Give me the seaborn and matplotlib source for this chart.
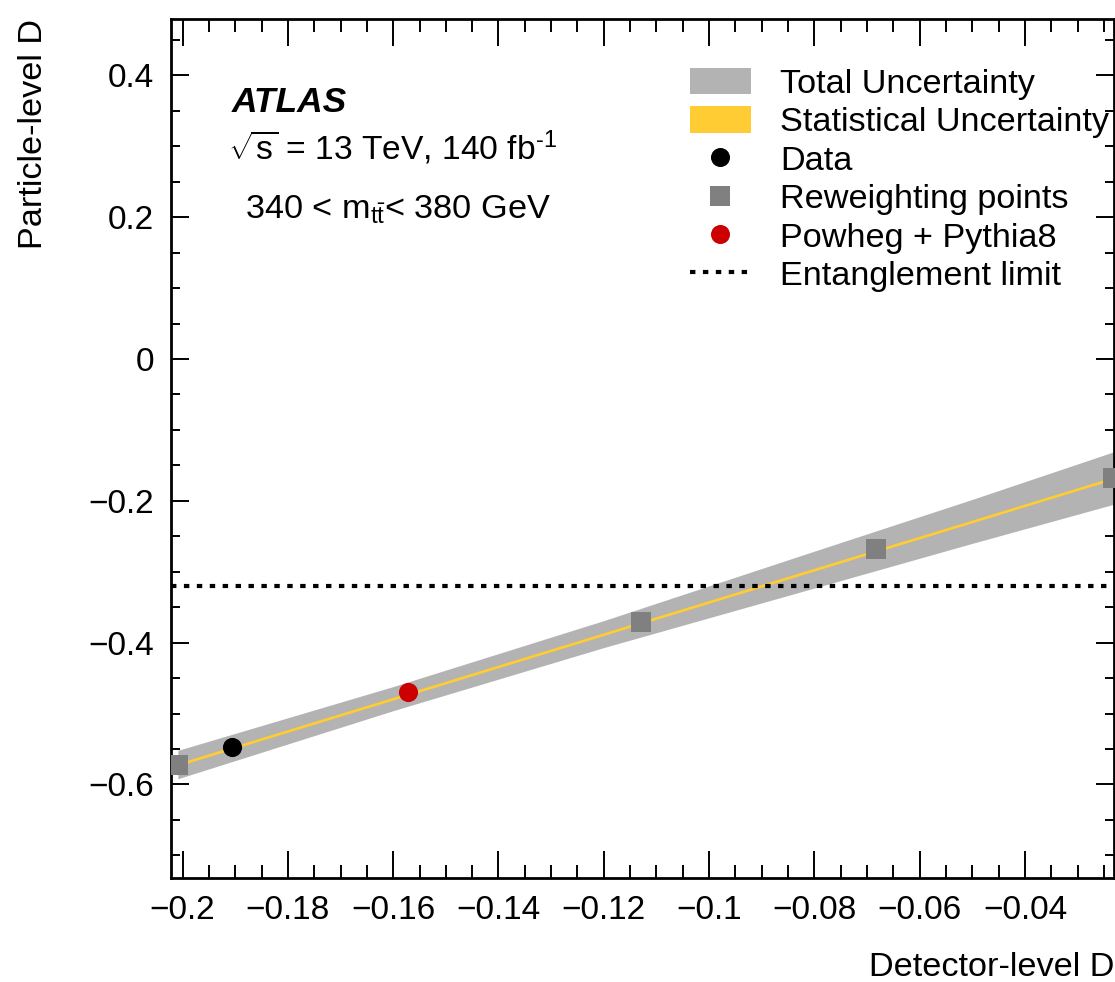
import numpy as np
import pandas as pd
import matplotlib
matplotlib.use("Agg")
import matplotlib.pyplot as plt
import seaborn as sns
from matplotlib.ticker import MultipleLocator, FuncFormatter
from matplotlib.patches import Patch
from matplotlib.lines import Line2D

# ---------------- data ----------------
rw_x = [-0.2009, -0.1130, -0.0683, -0.0232]
rw_y = [-0.572, -0.371, -0.268, -0.168]

data_x = [-0.1907]
data_y = [-0.547]

mc_x = [-0.1571]
mc_y = [-0.470]

band_x = [-0.2009, -0.160, -0.120, -0.080, -0.050, -0.0232]
tot_hi = [-0.552, -0.462, -0.369, -0.271, -0.198, -0.131]
tot_lo = [-0.592, -0.496, -0.407, -0.323, -0.260, -0.205]
stat_hi = [-0.570, -0.477, -0.386, -0.295, -0.227, -0.166]
stat_lo = [-0.574, -0.481, -0.390, -0.299, -0.231, -0.170]

ent_limit = -0.32

x_label = "Detector-level D"
y_label = "Particle-level D"

# ---------------- style ----------------
sns.set_theme(style="ticks")
FONT = "Liberation Sans"
plt.rcParams["font.family"] = [FONT, "DejaVu Sans"]
plt.rcParams["mathtext.fontset"] = "custom"
plt.rcParams["mathtext.rm"] = FONT
plt.rcParams["mathtext.it"] = FONT + ":italic"
plt.rcParams["mathtext.bf"] = FONT + ":bold"
plt.rcParams["axes.unicode_minus"] = True
plt.rcParams["text.color"] = "black"
plt.rcParams["axes.labelcolor"] = "black"
FS = 24
FS2 = 24.7

C_TOT = "#b3b3b3"
C_STAT = "#ffcc33"
C_RW = "#808080"
C_MC = "#cc0000"

fig = plt.figure(figsize=(11.15, 9.82), dpi=100)
ax = fig.add_axes([171 / 1115, 104 / 982, 943 / 1115, 859 / 982])

# bands
ax.fill_between(band_x, tot_lo, tot_hi, color=C_TOT, lw=0, zorder=1)
ax.fill_between(band_x, stat_lo, stat_hi, color=C_STAT, lw=0, zorder=2)

# entanglement limit
ax.axhline(ent_limit, color="black", lw=3.0, ls=(0, (1.3, 1.8)),
           dash_capstyle="butt", zorder=3)

# points
df_rw = pd.DataFrame({"x": rw_x, "y": rw_y})
df_data = pd.DataFrame({"x": data_x, "y": data_y})
df_mc = pd.DataFrame({"x": mc_x, "y": mc_y})
sns.scatterplot(data=df_rw, x="x", y="y", marker="s", s=190, color=C_RW,
                linewidth=0, ax=ax, zorder=4)
sns.scatterplot(data=df_data, x="x", y="y", marker="o", s=190, color="black",
                linewidth=0, ax=ax, zorder=5)
sns.scatterplot(data=df_mc, x="x", y="y", marker="o", s=190, color=C_MC,
                linewidth=0, ax=ax, zorder=5)

ax.set_xlim(-0.2022, -0.0231)
ax.set_ylim(-0.732, 0.4795)

# ticks
ax.xaxis.set_major_locator(MultipleLocator(0.02))
ax.xaxis.set_minor_locator(MultipleLocator(0.005))
ax.yaxis.set_major_locator(MultipleLocator(0.2))
ax.yaxis.set_minor_locator(MultipleLocator(0.05))


def fmt(v, p):
    if abs(v) < 1e-9:
        return "0"
    return ("%g" % round(v, 4)).replace("-", "\u2212")


ax.xaxis.set_major_formatter(FuncFormatter(fmt))
ax.yaxis.set_major_formatter(FuncFormatter(fmt))
ax.tick_params(which="both", direction="in", top=True, right=True,
               width=1.4, colors="black", labelsize=FS)
ax.tick_params(axis="x", which="major", length=19.5, pad=12)
ax.tick_params(axis="x", which="minor", length=9.5)
ax.tick_params(axis="y", which="major", length=13, pad=12)
ax.tick_params(axis="y", which="minor", length=6.5)
for sp in ax.spines.values():
    sp.set_linewidth(2)
    sp.set_color("black")

ax.set_xlabel(x_label, fontsize=FS2, loc="right", labelpad=19)
ax.set_ylabel(y_label, fontsize=FS2, loc="top")
ax.yaxis.set_label_coords((49 - 171) / 943, 1.0)

# annotations
ax.text(0.0644, 0.892, "ATLAS", transform=ax.transAxes, fontsize=25.5,
        fontweight="bold", fontstyle="italic", va="baseline", ha="left")
ax.text(0.0605, 0.836, "$\\sqrt{\\mathrm{s}}$ = 13 TeV, 140 fb$^{\u20101}$",
        transform=ax.transAxes, fontsize=24.2, va="baseline", ha="left")
ax.text(0.0785, 0.768, r"340 < m$_{\mathrm{t\bar{t}}}$< 380 GeV",
        transform=ax.transAxes, fontsize=FS2, va="baseline", ha="left")

# legend
handles = [
    Patch(facecolor=C_TOT, edgecolor="none"),
    Patch(facecolor=C_STAT, edgecolor="none"),
    Line2D([], [], ls="none", marker="o", ms=13.7, color="black", mew=0),
    Line2D([], [], ls="none", marker="s", ms=13.7, color=C_RW, mew=0),
    Line2D([], [], ls="none", marker="o", ms=13.7, color=C_MC, mew=0),
    Line2D([], [], color="black", lw=3.0, ls=(0, (1.3, 1.8)),
           dash_capstyle="butt"),
]
labels = ["Total Uncertainty", "Statistical Uncertainty", "Data",
          "Reweighting points", "Powheg + Pythia8", "Entanglement limit"]
leg = ax.legend(handles, labels, loc="upper left",
                bbox_to_anchor=((690 - 171) / 943, (878 - 68) / 859),
                frameon=False, fontsize=FS2, borderpad=0, borderaxespad=0,
                labelspacing=0.185, handlelength=1.77, handleheight=0.8,
                handletextpad=0.85)

fig.savefig("out.png", dpi=100)
